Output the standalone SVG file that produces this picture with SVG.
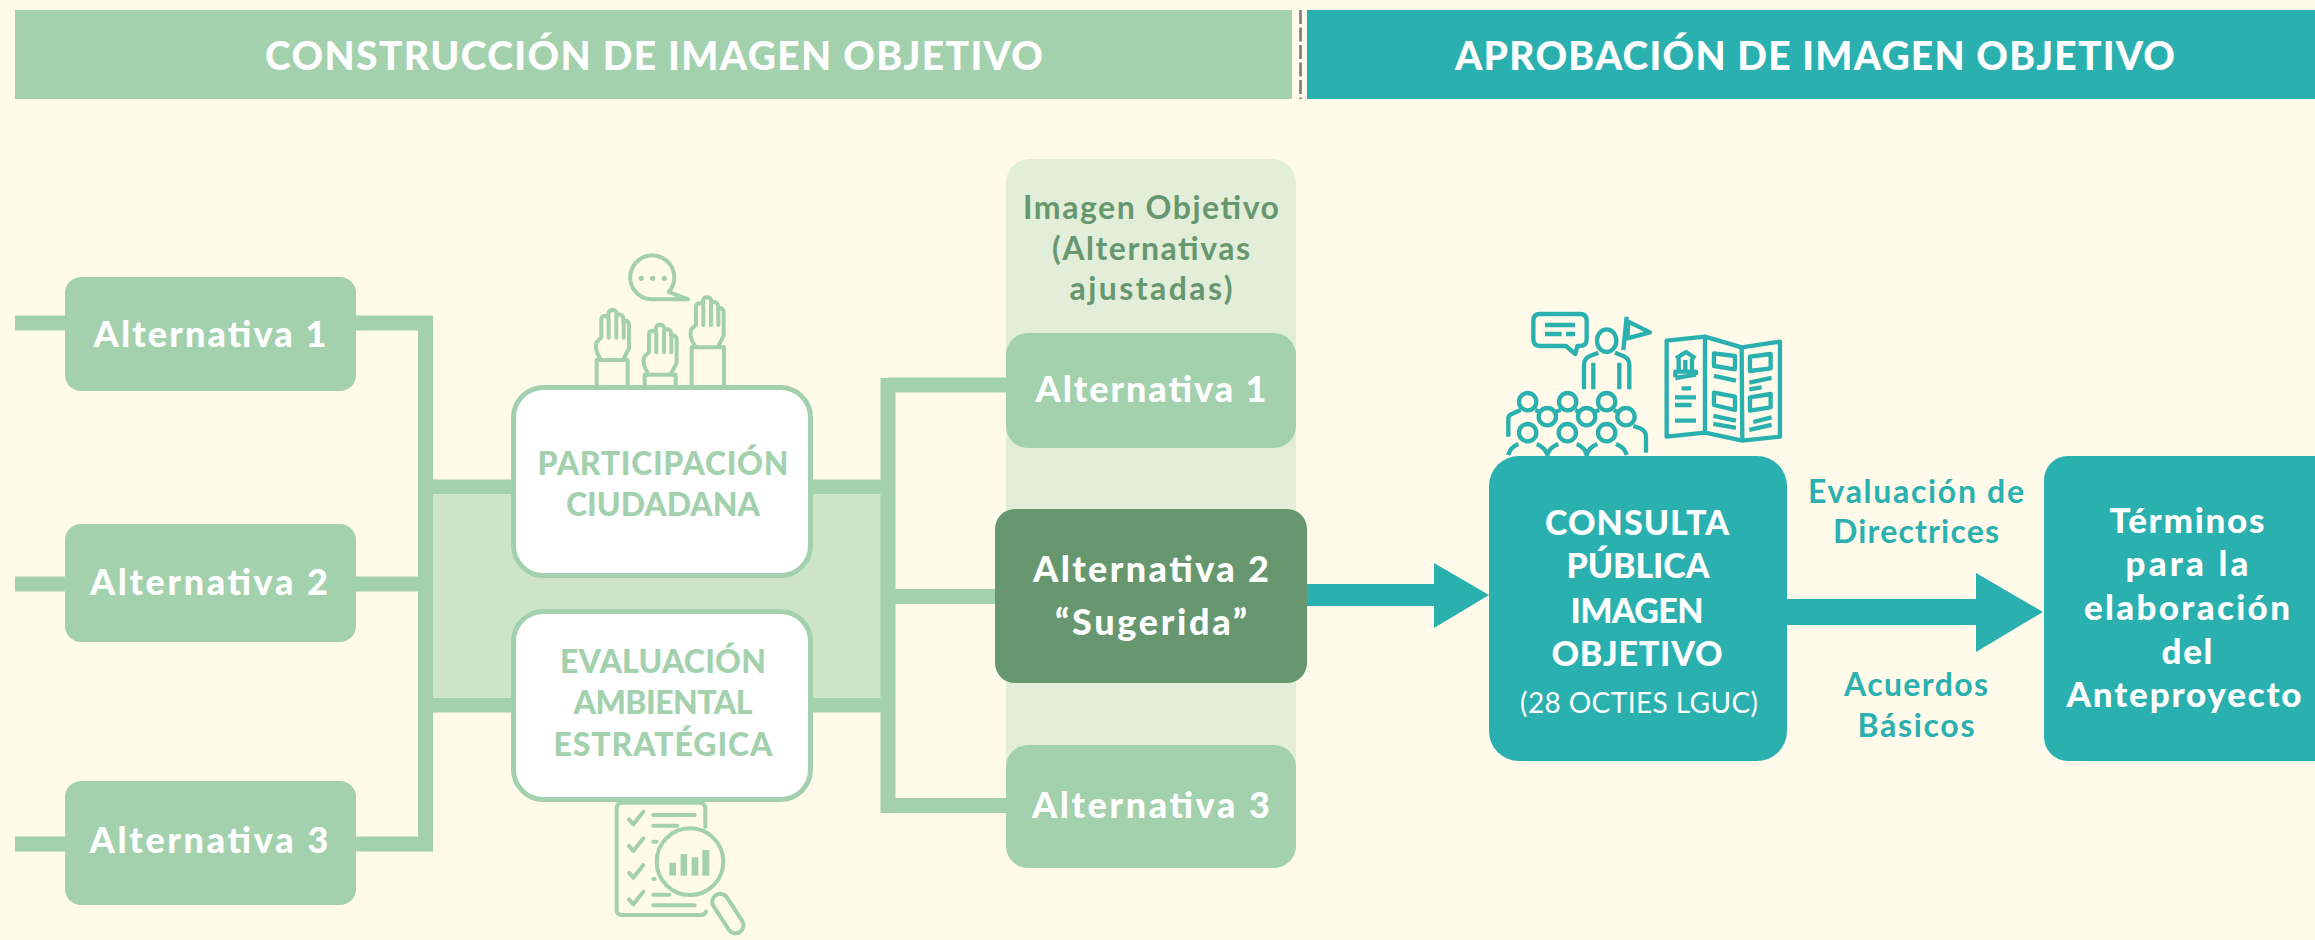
<svg xmlns="http://www.w3.org/2000/svg" width="2315" height="940" viewBox="0 0 2315 940">
<style>
text{font-family:"Lato","Liberation Sans",sans-serif;text-anchor:middle}
.hd{font-size:39px;font-weight:900;fill:#fff}
.alt{font-size:36px;font-weight:900;fill:#fff}
.eval{font-size:32px;font-weight:900;fill:#a3d1ad}
.con{font-size:34px;font-weight:900;fill:#fff}
.sub{font-size:28px;font-weight:400;fill:#fff}
.lab{font-size:32px;font-weight:700;fill:#2bb0b0}
.img{font-size:32px;font-weight:700;fill:#66976f}
.ter{font-size:35px;font-weight:900;fill:#fff}
.g{fill:#a3d1ad}.t{fill:#2bb0b0}
.wire{stroke:#a3d1ad;fill:none}
.ig{fill:none;stroke:#a3d1ad;stroke-width:12;stroke-linecap:round;stroke-linejoin:round}
.it{fill:none;stroke:#2bb0b0;stroke-width:13;stroke-linejoin:round}
.box{fill:#fff;stroke:#a3d1ad;stroke-width:5}
</style>
<defs>
<g id="hand"><path d="M360 354C350 340 345 325 349 308L364 292V240Q364 228 374 228Q384 228 385 236V222Q386 210 397 210Q409 210 410 222V228Q411 222 420 224Q430 226 430 236V242Q444 240 447 252V325L432 354"/><path d="M386 236V293M409 228V293M431 242V293"/></g>
<g id="chk"><path d="M147 118L160 133L190 95"/></g>
<g id="head"><circle r="26"/></g>
</defs>
<rect width="2315" height="940" fill="#fffae9"/>
<g id="header-construccion"><rect class="g" x="15" y="10" width="1277" height="89"/><text class="hd" x="654" y="70" textLength="778">CONSTRUCCIÓN DE IMAGEN OBJETIVO</text></g>
<g id="header-aprobacion"><rect class="t" x="1307" y="10" width="1008" height="89"/><text class="hd" x="1815" y="70" textLength="720">APROBACIÓN DE IMAGEN OBJETIVO</text></g>
<line id="divider" x1="1300.5" y1="10" x2="1300.5" y2="99" stroke="#777" stroke-width="2.5" stroke-dasharray="14 3.5"/>
<rect id="panel-band" x="432" y="495" width="449" height="202" fill="#cde4c8"/>
<g id="panel-imagen"><rect x="1006" y="159" width="290" height="709" rx="24" fill="#e2eed8"/><text class="img" x="1151" y="219" textLength="256">Imagen Objetivo</text><text class="img" x="1151" y="260" textLength="198">(Alternativas</text><text class="img" x="1151" y="300" textLength="163">ajustadas)</text></g>
<g id="connectors">
<g class="wire" stroke-width="15">
<path d="M15 323H425.500V844H15M15 584H425.500M432 487H511M432 705H511"/>
<path d="M813 487H888M813 705H888M888 378V813M888 385H1006M888 596.500H995M888 805.500H1006"/>
</g>
<path class="t" d="M1307 584H1434V563L1489 595L1434 628V606H1307Z"/>
<path class="t" d="M1787 599H1976V573L2043 612L1976 652V625H1787Z"/>
</g>
<g id="alt1-left"><rect class="g" x="65" y="277" width="291" height="114" rx="16"/><text class="alt" x="210" y="347" textLength="233">Alternativa 1</text></g>
<g id="alt2-left"><rect class="g" x="65" y="524" width="291" height="118" rx="16"/><text class="alt" x="209" y="595" textLength="238">Alternativa 2</text></g>
<g id="alt3-left"><rect class="g" x="65" y="781" width="291" height="124" rx="16"/><text class="alt" x="209" y="853" textLength="239">Alternativa 3</text></g>
<g id="participacion"><rect class="box" x="513.500" y="387.500" width="297" height="188" rx="30"/><text class="eval" x="663" y="475" textLength="251">PARTICIPACIÓN</text><text class="eval" x="663" y="516" textLength="194">CIUDADANA</text></g>
<g id="evaluacion"><rect class="box" x="513.500" y="611.500" width="297" height="188" rx="30"/><text class="eval" x="663" y="673" textLength="206">EVALUACIÓN</text><text class="eval" x="663" y="714" textLength="179">AMBIENTAL</text><text class="eval" x="663" y="756" textLength="219">ESTRATÉGICA</text></g>
<g id="icon-hands" transform="translate(480 240) scale(.3333)">
<path class="ig" d="M566 156A66 66 0 1 0 515 178H625L566 156Z"/>
<g fill="#a3d1ad"><circle cx="484" cy="115" r="8"/><circle cx="518" cy="115" r="8"/><circle cx="553" cy="115" r="8"/></g>
<g class="ig"><use href="#hand"/><path d="M350 436V360H443V436"/><use href="#hand" x="143" y="44"/><path d="M494 436V404H587V436"/><use href="#hand" x="284" y="-38"/><path d="M635 436V322H732V436"/></g>
</g>
<g id="icon-check" transform="translate(580 780) scale(.3333)">
<g class="ig"><path d="M376 140V85Q376 68 358 68H128Q110 68 110 85V390Q110 405 128 405H360Q374 405 378 395"/><use href="#chk"/><use href="#chk" y="80"/><use href="#chk" y="160"/><use href="#chk" y="240"/><path d="M220 105H344M220 137H292M220 185H230M220 297H224M220 344H268M220 376H344"/>
<circle cx="330" cy="245" r="100" fill="#fffae9"/>
<rect x="-24" y="-8" width="48" height="132" rx="24" transform="translate(412 352) rotate(-33)"/></g>
<g class="g"><rect x="268" y="248" width="20" height="39"/><rect x="302" y="222" width="19" height="65"/><rect x="335" y="232" width="20" height="55"/><rect x="367" y="210" width="21" height="77"/></g>
</g>
<g id="icon-audience" transform="translate(1490 290) scale(.3333)">
<g class="it"><path d="M150 72H270Q290 72 290 92V148Q290 168 270 168H262L256 192L228 168H150Q130 168 130 148V92Q130 72 150 72Z"/><path d="M165 105H255M165 132H215M228 132H255"/>
<ellipse cx="350" cy="152" rx="29" ry="34"/><path d="M282 298V225Q282 205 300 198L325 188M375 188L400 198Q418 205 418 225V298M310 218V298M388 218V298"/><path d="M400 180L410 80M415 95L480 127L412 145Z"/>
<use href="#head" x="113" y="335"/><use href="#head" x="233" y="335"/><use href="#head" x="350" y="335"/><use href="#head" x="172" y="380"/><use href="#head" x="290" y="380"/><use href="#head" x="408" y="380"/><use href="#head" x="113" y="428"/><use href="#head" x="232" y="428"/><use href="#head" x="350" y="428"/>
<path d="M55 440V385Q55 375 70 370L92 360M136 360L150 366M195 366L212 360M256 360L268 366M312 366L328 360M372 360L385 368M430 408L450 415Q468 422 468 440V488M55 495Q60 472 85 462M140 462Q165 472 172 495Q178 472 205 462M260 462Q285 472 290 495Q296 472 322 462M378 462Q405 472 410 495"/>
<path d="M530 152L645 140L755 172L870 155V440L757 452L645 428L530 440Z"/><path d="M645 140V428M755 172L757 452"/>
<path d="M672 190L735 198V238L672 228Z"/><path d="M672 258L738 272M672 308L735 320V360L672 345Z"/><path d="M670 378L738 392M670 402L738 414"/>
<path d="M780 200L842 192V235L780 243Z"/><path d="M778 278L845 264M778 298L815 292M780 322L842 312V352L780 362Z"/><path d="M790 396L845 382M778 420L845 405"/>
<path d="M558 205L588 186L616 205M566 205V245M606 205V245M586 210V240M556 262V245H618V255M556 264L618 254M575 295H603M555 322H618M555 345H605M555 392H618"/>
</g>
</g>
<g id="alt1-right"><rect class="g" x="1006" y="333" width="290" height="115" rx="22"/><text class="alt" x="1151" y="402" textLength="231">Alternativa 1</text></g>
<g id="alt2-right"><rect x="995" y="509" width="312" height="174" rx="20" fill="#66976f"/><text class="alt" x="1151" y="582" textLength="236">Alternativa 2</text><text class="alt" x="1151" y="635" textLength="192">“Sugerida”</text></g>
<g id="alt3-right"><rect class="g" x="1006" y="745" width="290" height="123" rx="22"/><text class="alt" x="1151" y="818" textLength="238">Alternativa 3</text></g>
<g id="consulta"><rect class="t" x="1489" y="456" width="298" height="305" rx="30"/><text class="con" x="1637" y="535" textLength="184">CONSULTA</text><text class="con" x="1638" y="578" textLength="143">PÚBLICA</text><text class="con" x="1637" y="623" textLength="133">IMAGEN</text><text class="con" x="1637" y="666" textLength="171">OBJETIVO</text><text class="sub" x="1639" y="713" textLength="238">(28 OCTIES LGUC)</text></g>
<g id="labels-arrow"><text class="lab" x="1916" y="503" textLength="216">Evaluación de</text><text class="lab" x="1916" y="543" textLength="166">Directrices</text><text class="lab" x="1916" y="696" textLength="144">Acuerdos</text><text class="lab" x="1916" y="737" textLength="117">Básicos</text></g>
<g id="terminos"><rect class="t" x="2044" y="456" width="300" height="305" rx="24"/><text class="ter" x="2187" y="533" textLength="155">Términos</text><text class="ter" x="2187" y="576" textLength="123">para la</text><text class="ter" x="2187" y="620" textLength="206">elaboración</text><text class="ter" x="2187" y="664" textLength="51">del</text><text class="ter" x="2184" y="707" textLength="235">Anteproyecto</text></g>
</svg>
